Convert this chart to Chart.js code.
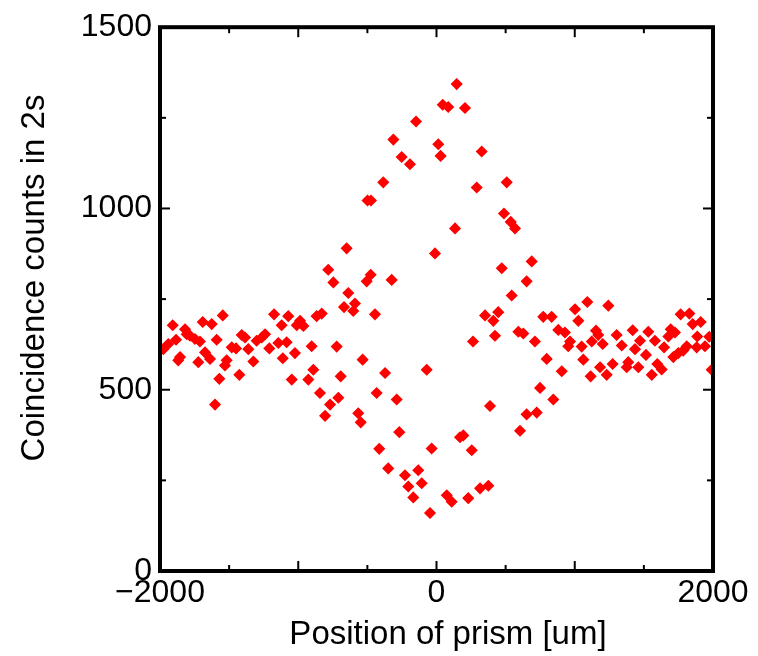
<!DOCTYPE html>
<html><head><meta charset="utf-8">
<script src="https://cdn.jsdelivr.net/npm/chart.js@4.4.0/dist/chart.umd.min.js"></script>
<style>html,body{margin:0;padding:0;background:#fff;overflow:hidden}#wrap{width:758px;height:656px}</style>
</head><body><div id="wrap"><canvas id="c" width="758" height="656"></canvas></div>
<script>
const positions = [-1976,-1940,-1908,-1884,-1868,-1855,-1819,-1807,-1783,-1747,-1723,-1711,-1691,-1674,-1638,-1626,-1602,-1590,-1571,-1546,-1530,-1518,-1481,-1450,-1426,-1409,-1385,-1361,-1325,-1301,-1264,-1240,-1209,-1175,-1144,-1120,-1112,-1084,-1072,-1047,-1024,-1011,-987,-963,-927,-903,-891,-867,-843,-830,-806,-783,-770,-746,-722,-710,-693,-669,-650,-638,-602,-590,-566,-548,-534,-505,-499,-476,-474,-445,-433,-414,-385,-372,-349,-324,-312,-288,-269,-252,-228,-204,-192,-168,-148,-132,-107,-71,-47,-35,-11,13,30,45,74,85,110,134,146,170,194,206,230,255,264,291,315,327,351,375,387,411,423,447,472,488,508,537,544,568,592,604,628,652,652,689,712,725,749,772,797,833,845,881,906,929,953,966,1002,1026,1050,1062,1091,1115,1123,1154,1170,1183,1202,1231,1243,1274,1303,1340,1376,1387,1419,1436,1460,1472,1515,1532,1557,1580,1597,1629,1646,1677,1694,1713,1725,1749,1766,1785,1810,1829,1853,1882,1886,1911,1942,1973,1990];
const counts = [612,626,678,638,581,590,667,653,649,640,576,633,687,603,585,681,459,638,530,705,567,581,617,614,541,651,644,612,578,635,644,653,614,708,629,678,587,631,703,528,601,678,690,676,528,620,555,703,491,710,428,831,459,796,619,478,537,728,890,767,717,738,435,410,583,799,1022,817,1022,708,491,337,1072,546,283,803,1190,473,383,1142,264,233,1122,203,1240,278,242,555,160,338,876,1177,1145,1286,209,1280,191,945,1343,369,374,1277,201,333,633,1058,228,1157,705,235,455,690,649,714,835,986,1072,963,760,945,660,387,655,799,432,854,633,437,505,701,585,701,473,665,551,658,620,633,722,690,619,583,742,537,633,663,651,562,626,541,732,571,651,622,562,576,664,612,562,635,596,660,541,635,571,556,617,647,667,590,658,601,708,608,620,710,681,617,647,687,620,646,555];
const xTickLabels = [-2000, 0, 2000];
const yTickLabels = [0, 500, 1000, 1500];
const xMajorTicks = [-1000, 0, 1000];
const xMinorTicks = [-1500, -500, 500, 1500];
const yMajorTicks = [500, 1000];
const yMinorTicks = [250, 750, 1250];
const xTitle = 'Position of prism [um]';
const yTitle = 'Coincidence counts in 2s';

const FONT = "'Liberation Sans', Arial, Helvetica, sans-serif";

const framePlugin = {
  id: 'frame',
  afterDraw(chart) {
    const {ctx, chartArea: a, scales: {x, y}} = chart;
    ctx.save();
    ctx.strokeStyle = '#000';
    ctx.lineCap = 'butt';
    ctx.lineWidth = 2;
    const tick = (list, len) => {
      list.forEach(v => {
        const px = x.getPixelForValue(v);
        ctx.beginPath(); ctx.moveTo(px, a.bottom); ctx.lineTo(px, a.bottom - len); ctx.stroke();
        ctx.beginPath(); ctx.moveTo(px, a.top); ctx.lineTo(px, a.top + len); ctx.stroke();
      });
    };
    const tickY = (list, len) => {
      list.forEach(v => {
        const py = y.getPixelForValue(v);
        ctx.beginPath(); ctx.moveTo(a.left, py); ctx.lineTo(a.left + len, py); ctx.stroke();
        ctx.beginPath(); ctx.moveTo(a.right, py); ctx.lineTo(a.right - len, py); ctx.stroke();
      });
    };
    tick(xMajorTicks, 10); tick(xMinorTicks, 6);
    tickY(yMajorTicks, 10); tickY(yMinorTicks, 6);
    ctx.lineWidth = 4;
    ctx.strokeRect(a.left, a.top, a.right - a.left, a.bottom - a.top);
    ctx.fillStyle = '#000';
    ctx.font = '33px ' + FONT;
    ctx.textAlign = 'center';
    ctx.textBaseline = 'middle';
    ctx.fillText(xTitle, 448, 635);
    ctx.translate(35, 278);
    ctx.rotate(-Math.PI / 2);
    ctx.fillText(yTitle, 0, 0);
    ctx.restore();
  }
};

new Chart(document.getElementById('c'), {
  type: 'scatter',
  data: {
    datasets: [{
      data: positions.map((p, i) => ({x: p, y: counts[i]})),
      pointStyle: 'rectRot',
      pointRadius: 5,
      pointBorderWidth: 1.5,
      backgroundColor: '#ff0000',
      borderColor: '#ff0000',
      pointHoverRadius: 5
    }]
  },
  options: {
    responsive: false,
    animation: false,
    devicePixelRatio: 1,
    layout: {padding: {top: 21.5, right: 45, left: 0, bottom: 0}},
    plugins: {legend: {display: false}, tooltip: {enabled: false}},
    events: [],
    scales: {
      x: {
        type: 'linear', min: -2000, max: 2000,
        afterBuildTicks: s => { s.ticks = xTickLabels.map(v => ({value: v})); },
        afterFit: s => { s.height = 85; },
        grid: {display: false, drawTicks: false},
        border: {display: false},
        ticks: {color: '#000', padding: 3, maxRotation: 0, font: {family: FONT, size: 32},
          callback: v => v < 0 ? '\u2212' + Math.abs(v) : String(v)}
      },
      y: {
        type: 'linear', min: 0, max: 1500,
        afterBuildTicks: s => { s.ticks = yTickLabels.map(v => ({value: v})); },
        afterFit: s => { s.width = 160; },
        grid: {display: false, drawTicks: false},
        border: {display: false},
        ticks: {color: '#000', padding: 8, font: {family: FONT, size: 32},
          callback: v => String(v)}
      }
    }
  },
  plugins: [framePlugin]
});
</script></body></html>
